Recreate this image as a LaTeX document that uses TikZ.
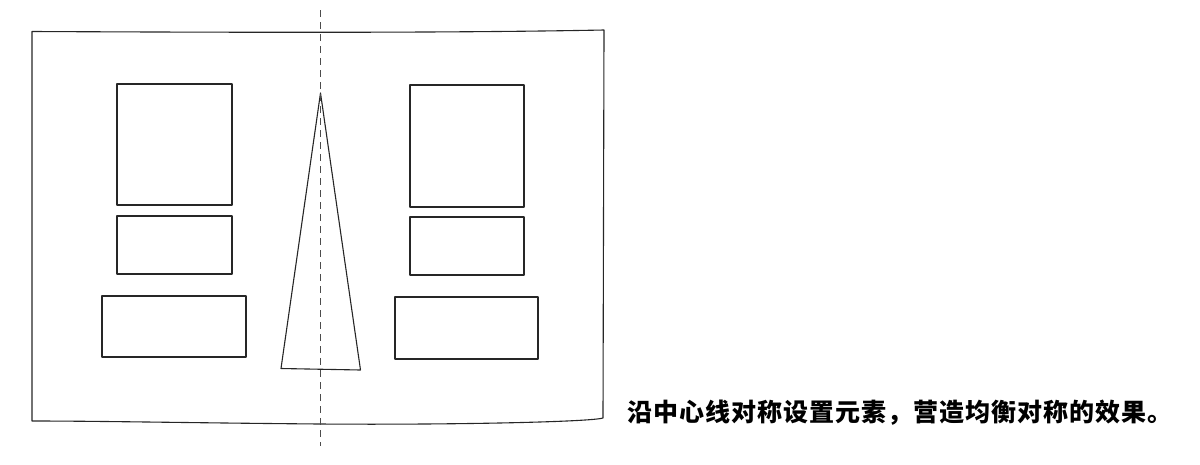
\documentclass[tikz,border=0pt]{standalone}
\usepackage{fontspec}
\newfontfamily\cjk[LetterSpace=4]{Noto Sans CJK SC}
\begin{document}
\begin{tikzpicture}[x=1pt,y=-1pt,
  shape line/.style={draw=black!85, line width=1.1pt, line join=round},
  axis line/.style={draw=black!70, line width=0.9pt, dash pattern=on 7pt off 5pt},
  caption/.style={font=\cjk\bfseries\fontsize{25pt}{28pt}\selectfont, anchor=west, inner sep=0pt}]
\useasboundingbox (0,0) rectangle (1200,464);
% frame
\draw[shape line] (32,31.5) .. controls (250,32.5) and (450,33) .. (604,30)
  -- (603,418) .. controls (590,422) and (450,425) .. (320,424)
  .. controls (200,423) and (100,421) .. (32,421) -- cycle;
% left column
\draw[shape line] (117,84) rectangle (232,205);
\draw[shape line] (117,216) rectangle (232,274);
\draw[shape line] (102,296) rectangle (246,357);
% right column
\draw[shape line] (410,85) rectangle (524,207);
\draw[shape line] (410,217) rectangle (524,275);
\draw[shape line] (395,297) rectangle (538,359);
% triangle
\draw[shape line] (320.5,93) -- (360.5,370) -- (281,368.5) -- cycle;
% centre line
\coordinate (axtop) at (320.5,10);
\coordinate (axbot) at (320.5,446);
\draw[axis line] (axtop) -- (axbot);
% caption
\node[caption] (cap) at (627,413) {沿中心线对称设置元素，营造均衡对称的效果。};
\end{tikzpicture}
\end{document}
